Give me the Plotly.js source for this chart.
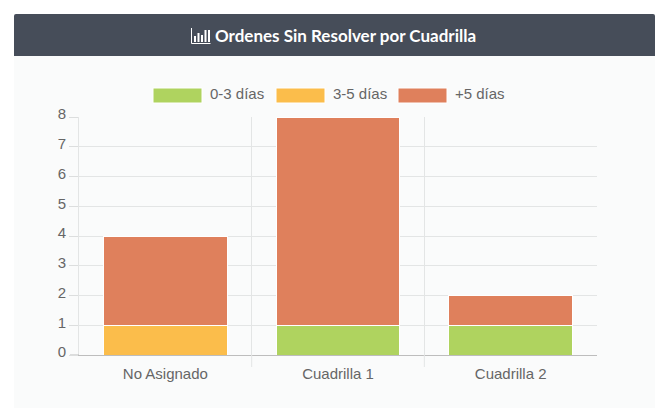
<!DOCTYPE html>
<html>
<head>
<meta charset="utf-8">
<script src="https://cdn.plot.ly/plotly-3.0.1.min.js"></script>
<style>
html,body{margin:0;padding:0;background:#fff;width:657px;height:408px;overflow:hidden}
#panel{position:absolute;left:14px;top:56px;width:641px;height:352px;background:#fafbfb}
#head{position:absolute;left:14px;top:14px;width:641px;height:42px;background:#464d59;border-radius:2px 2px 0 0}
#icon{position:absolute;left:191px;top:28px}
#chart{position:absolute;left:0;top:0;width:657px;height:408px}
</style>
</head>
<body>
<div id="panel"></div>
<div id="head"></div>
<div id="chart"></div>
<svg id="icon" width="20" height="16" viewBox="0 0 20 16">
  <path d="M0.5 0V15.5H19.5" fill="none" stroke="#fff" stroke-width="1"/>
  <rect x="3" y="8" width="2" height="6" fill="#fff"/>
  <rect x="6.5" y="5" width="2" height="9" fill="#fff"/>
  <rect x="10" y="7" width="2" height="7" fill="#fff"/>
  <rect x="13.5" y="2" width="2" height="12" fill="#fff"/>
  <rect x="17" y="2" width="2" height="12" fill="#fff"/>
</svg>
<script>
const categories = ["No Asignado", "Cuadrilla 1", "Cuadrilla 2"];
const seriesNames = ["0-3 días", "3-5 días", "+5 días"];
const seriesColors = ["#afd35f", "#fbbd4b", "#df805c"];
const days0to3 = [0, 1, 1];
const days3to5 = [1, 0, 0];
const daysOver5 = [3, 7, 1];
const seriesValues = [days0to3, days3to5, daysOver5];
const titleText = "Ordenes Sin Resolver por Cuadrilla";

const plot = {l: 79, r: 597, t: 117, b: 355};
const px = v => (v - plot.l) / (plot.r - plot.l);
const py = v => (plot.b - v) / (plot.b - plot.t);
const swatchLeft = [153, 276, 398];
const labelFont = {family: "'Liberation Sans', Arial, sans-serif", size: 15, color: "#666666"};

const traces = seriesNames.map((name, i) => ({
  type: "bar", name, x: categories, y: seriesValues[i], width: 0.715,
  marker: {color: seriesColors[i], line: {color: "#ffffff", width: 1}},
  hoverinfo: "x+y+name"
}));

const legendSwatches = swatchLeft.map((x, i) => ({
  type: "rect", xref: "paper", yref: "paper", layer: "above",
  x0: px(x), x1: px(x + 49), y0: py(103), y1: py(88),
  fillcolor: seriesColors[i], line: {color: "#ffffff", width: 1}
}));

const separatorTicks = [0.5, 1.5].map(x => ({
  type: "line", xref: "x", yref: "paper", x0: x, x1: x, y0: py(367), y1: 0,
  line: {color: "#e3e5e5", width: 1}
}));

const zeroTick = {
  type: "line", xref: "paper", yref: "y", x0: px(70), x1: 0, y0: 0, y1: 0,
  line: {color: "#bdbdbd", width: 1}
};

const annotations = swatchLeft.map((x, i) => ({
  xref: "paper", yref: "paper", x: px(x + 55), y: py(94),
  xanchor: "left", yanchor: "middle", showarrow: false,
  text: seriesNames[i], font: labelFont
}));

Plotly.newPlot("chart", traces, {
  width: 657, height: 408,
  margin: {l: plot.l, r: 657 - plot.r, t: plot.t, b: 408 - plot.b},
  paper_bgcolor: "rgba(0,0,0,0)", plot_bgcolor: "rgba(0,0,0,0)",
  barmode: "stack", showlegend: false,
  title: {
    text: "<b>" + titleText + "</b>",
    x: 345.5 / 657, xanchor: "center", y: 1 - 36 / 408, yanchor: "middle",
    font: {family: "Lato, sans-serif", size: 17, color: "#ffffff"}
  },
  xaxis: {
    type: "category", range: [-0.5, 2.5], tickson: "boundaries",
    showgrid: true, gridcolor: "#e3e5e5", gridwidth: 1,
    ticks: "outside", ticklen: 12, tickcolor: "rgba(0,0,0,0)", tickwidth: 1,
    ticklabelstandoff: 5,
    showline: true, linecolor: "#bdbdbd", linewidth: 1,
    tickfont: labelFont, zeroline: false
  },
  yaxis: {
    range: [0, 8], dtick: 1, showgrid: true, gridcolor: "#e3e5e5", gridwidth: 1,
    ticks: "outside", ticklen: 9, tickcolor: "#dcdede", tickwidth: 1,
    ticklabelshift: -3,
    showline: true, linecolor: "#e3e5e5", linewidth: 1, zeroline: false,
    tickfont: labelFont
  },
  shapes: [...legendSwatches, ...separatorTicks, zeroTick], annotations
}, {displayModeBar: false, staticPlot: true});
</script>
</body>
</html>
